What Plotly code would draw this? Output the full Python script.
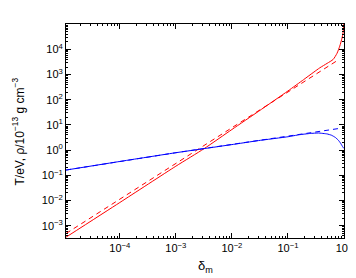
import plotly.graph_objects as go

# Red: temperature T (eV) vs delta_m
delta_T_solid = [1.1e-5, 1e-4, 1e-3, 3.2e-3, 1e-2, 3e-2, 0.1, 0.19, 0.29, 0.37, 0.5, 0.64, 0.75, 0.84, 0.92, 0.96, 0.99, 1.0]
T_solid = [3.5e-4, 8.3e-3, 0.23, 1.15, 6.6, 35, 224, 630, 1260, 1860, 2800, 4000, 7000, 1.35e4, 2.8e4, 4.5e4, 9e4, 1.6e5]

delta_T_dash = [1.1e-5, 1e-3, 0.1, 0.8]
T_dash = [4.9e-4, 0.3, 200, 3900]

# Blue: density rho (1e-13 g/cm^3) vs delta_m
delta_rho_solid = [1.1e-5, 1e-4, 1e-3, 3.2e-3, 1e-2, 0.03, 0.1, 0.16, 0.25, 0.35, 0.5, 0.6, 0.7, 0.79, 0.86, 0.9, 0.95, 0.98, 1.0]
rho_solid = [0.162, 0.355, 0.79, 1.15, 1.66, 2.4, 3.4, 4.1, 4.6, 4.8, 4.4, 3.9, 3.2, 2.5, 1.95, 1.65, 1.35, 1.22, 1.18]

delta_rho_dash = [1.1e-5, 1e-3, 0.1, 0.8]
rho_dash = [0.162, 0.79, 3.6, 7.2]

def sup(s):
    return "<sup>" + s + "</sup>"

x_tickvals = [1e-4, 1e-3, 1e-2, 1e-1, 1]
x_ticktext = ["10" + sup("−4"), "10" + sup("−3"), "10" + sup("−2"), "10" + sup("−1"), "10" + sup("0")]
y_tickvals = [1e-3, 1e-2, 1e-1, 1, 10, 100, 1e3, 1e4]
y_ticktext = ["10" + sup("−3"), "10" + sup("−2"), "10" + sup("−1"), "10" + sup("0"),
              "10" + sup("1"), "10" + sup("2"), "10" + sup("3"), "10" + sup("4")]

minor_x = [m * 10.0 ** k for k in range(-5, 0) for m in range(2, 10)]
minor_y = [m * 10.0 ** k for k in range(-4, 5) for m in range(2, 10)]

fig = go.Figure()
fig.add_trace(go.Scatter(x=delta_T_solid, y=T_solid, mode="lines",
                         line=dict(color="#ff0000", width=1, shape="spline", smoothing=0.6)))
fig.add_trace(go.Scatter(x=delta_T_dash, y=T_dash, mode="lines",
                         line=dict(color="#ff0000", width=1, dash="5px,4px")))
fig.add_trace(go.Scatter(x=delta_rho_solid, y=rho_solid, mode="lines",
                         line=dict(color="#0000ff", width=1, shape="spline", smoothing=0.3)))
fig.add_trace(go.Scatter(x=delta_rho_dash, y=rho_dash, mode="lines",
                         line=dict(color="#0000ff", width=1, dash="5px,4px")))

font = dict(family="Liberation Sans, Arial, Helvetica, sans-serif", size=11, color="black")
title_font = dict(family="Liberation Sans, Arial, Helvetica, sans-serif", size=12, color="black")

fig.update_layout(
    width=356, height=278,
    margin=dict(l=58, r=16, t=16, b=48),
    paper_bgcolor="white", plot_bgcolor="white",
    showlegend=False,
    font=font,
    annotations=[
        dict(text="δ<sub>m</sub>", xref="paper", yref="paper", x=0.5, y=-0.085,
             xanchor="center", yanchor="top", showarrow=False, font=dict(title_font, size=13)),
        dict(text="T/eV, ρ/10<sup>−13</sup> g cm<sup>−3</sup>",
             xref="paper", yref="paper", x=-0.135, y=0.5, textangle=-90,
             xanchor="right", yanchor="middle", showarrow=False, font=title_font),
    ],
)
fig.update_xaxes(
    type="log", range=[-4.96, 0],
    tickvals=x_tickvals, ticktext=x_ticktext,
    ticks="inside", ticklen=5, tickcolor="black", tickwidth=1,
    showline=True, linecolor="black", linewidth=1, mirror="allticks",
    showgrid=False, zeroline=False,
    minor=dict(tickvals=minor_x, ticks="inside", ticklen=2, tickcolor="black", showgrid=False),
    tickfont=font,
)
fig.update_yaxes(
    type="log", range=[-3.49, 5.01],
    tickvals=y_tickvals, ticktext=y_ticktext,
    ticks="inside", ticklen=5, tickcolor="black", tickwidth=1,
    showline=True, linecolor="black", linewidth=1, mirror="allticks",
    showgrid=False, zeroline=False,
    minor=dict(tickvals=minor_y, ticks="inside", ticklen=2, tickcolor="black", showgrid=False),
    tickfont=font,
)

fig.write_html("out.html")
